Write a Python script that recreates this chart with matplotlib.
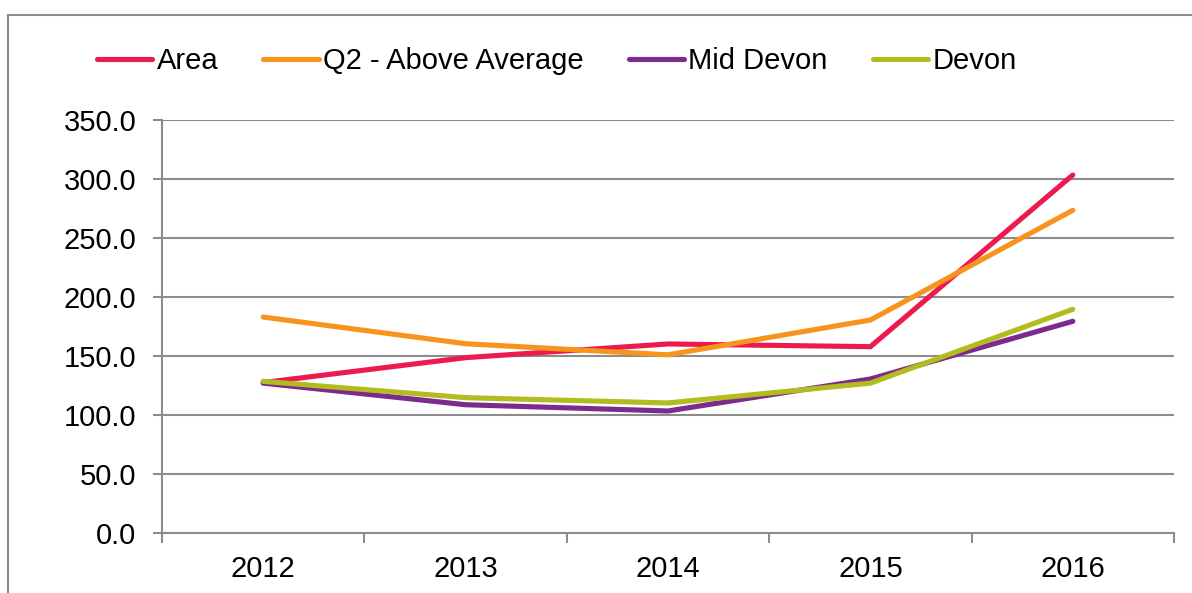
import numpy as np
import matplotlib
matplotlib.use("Agg")
import matplotlib.pyplot as plt
from matplotlib.patches import Rectangle

years = ["2012", "2013", "2014", "2015", "2016"]
area = [127.5, 148.6, 160.2, 157.9, 303.4]
q2_above_avg = [183.0, 160.4, 151.0, 180.5, 273.5]
mid_devon = [127.0, 108.7, 103.4, 130.5, 179.4]
devon = [128.5, 114.7, 110.2, 127.0, 189.6]

series = [
    ("Area", area, "#EC1B4F"),
    ("Q2 - Above Average", q2_above_avg, "#F7941D"),
    ("Mid Devon", mid_devon, "#7D2A8E"),
    ("Devon", devon, "#B3BC1E"),
]

plt.rcParams['font.family'] = ['Liberation Sans', 'DejaVu Sans']
grey = "#8C8C8C"

fig = plt.figure(figsize=(11.92, 5.93), dpi=100)
ax = fig.add_axes([162 / 1192, 60 / 593, (1174 - 162) / 1192, (533 - 120) / 593])

# outer chart border (runs off the right and bottom edge)
fig.patches.append(Rectangle((8 / 1192, -0.2), 1.2, 0.2 + (593 - 15) / 593,
                             transform=fig.transFigure, fill=False,
                             edgecolor=grey, lw=1.5, zorder=0))

x = np.arange(len(years))
for name, vals, col in series:
    ax.plot(x, vals, color=col, lw=3.7, label=name, solid_capstyle='round',
            solid_joinstyle='miter', zorder=3)

ax.set_xlim(-0.5, len(years) - 0.5)
ax.set_ylim(0, 350)
ax.set_yticks(np.arange(0, 351, 50))
ax.set_yticklabels([f"{v:.1f}" for v in np.arange(0, 351, 50)])
ax.yaxis.grid(True, color=grey, lw=1.5, zorder=1)
ax.set_axisbelow(True)

ax.set_xticks(x)
ax.set_xticklabels(years)
ax.set_xticks(np.arange(-0.5, len(years)), minor=True)
ax.tick_params(axis='x', which='major', length=0, pad=15.5, labelsize=21)
ax.tick_params(axis='x', which='minor', length=7, width=1.5, color=grey)
ax.tick_params(axis='y', length=6.5, width=1.5, color=grey, pad=12, labelsize=21)

for s in ['top', 'right']:
    ax.spines[s].set_visible(False)
for s in ['left', 'bottom']:
    ax.spines[s].set_color(grey)
    ax.spines[s].set_linewidth(1.5)

fig.legend(loc='center left', bbox_to_anchor=(97 / 1192, 1 - 61 / 593),
           ncol=4, frameon=False, fontsize=21, handlelength=1.9,
           handletextpad=0.14, columnspacing=1.55, borderpad=0,
           borderaxespad=0)

fig.savefig("out.png", dpi=100)
